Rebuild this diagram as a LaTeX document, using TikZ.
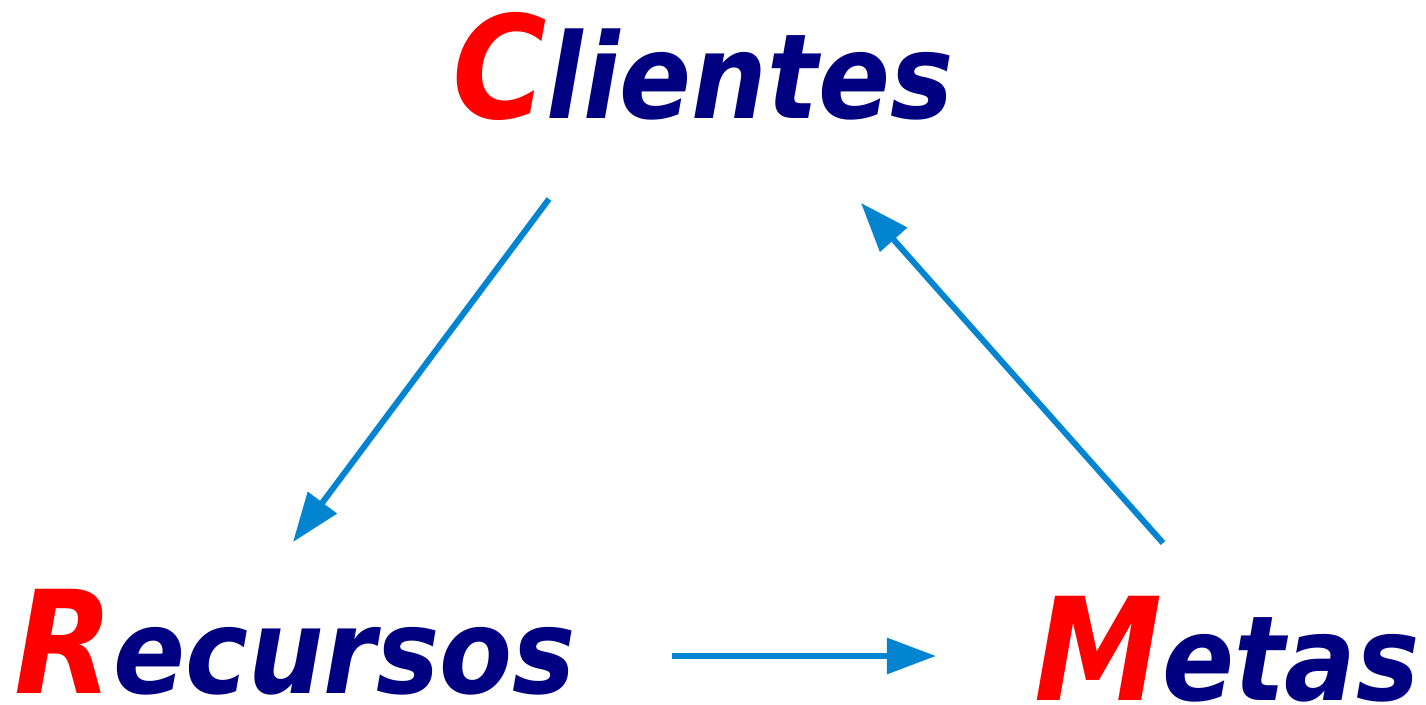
\documentclass[tikz,border=0pt]{standalone}
\usepackage{fontspec}
\setmainfont{DejaVu Sans Condensed}
\definecolor{capred}{RGB}{255,0,0}
\definecolor{wordblue}{RGB}{0,0,128}
\definecolor{arrowblue}{RGB}{2,132,209}
\usetikzlibrary{arrows.meta}
\newcommand{\capword}[2]{\bfseries\itshape{\fontsize{40.7}{41}\selectfont\color{capred}#1}{\fontsize{33.6}{34}\selectfont\color{wordblue}#2}}
\begin{document}
\begin{tikzpicture}[word/.style={inner sep=0pt,anchor=base},
  flow/.style={arrowblue,line width=1.7pt,-{Triangle[length=14pt,width=10pt]}}]
\useasboundingbox (0,0) rectangle (14.26,7.04);
\node[word] (C) at (7.03,5.85) {\capword{C}{lientes}};
\node[word] (R) at (2.95,0.11) {\capword{R}{ecursos}};
\node[word] (M) at (12.27,0.04) {\capword{M}{etas}};
\coordinate (CR1) at (5.49,5.05);
\coordinate (CR2) at (2.93,1.62);
\coordinate (MC1) at (11.63,1.61);
\coordinate (MC2) at (8.61,5.01);
\coordinate (RM1) at (6.72,0.48);
\coordinate (RM2) at (9.36,0.48);
\draw[flow] (CR1)--(CR2);
\draw[flow] (MC1)--(MC2);
\draw[flow] (RM1)--(RM2);
\end{tikzpicture}
\end{document}
